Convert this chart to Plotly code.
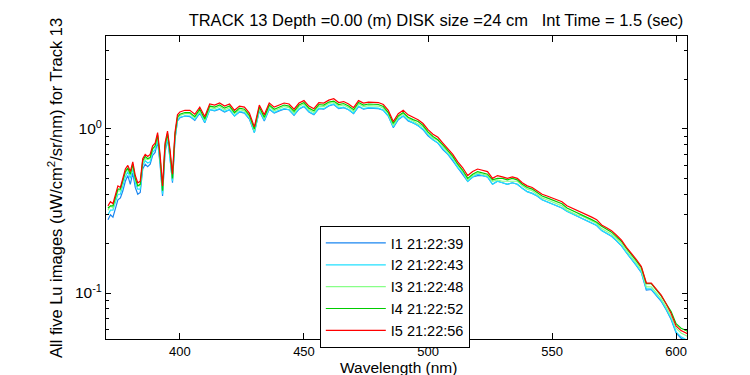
import plotly.graph_objects as go

# Wavelengths (nm): 1-nm steps to 400, then 2-nm steps
wavelength = list(range(371, 401)) + list(range(402, 607, 2))

lu_I5 = [0.34,0.36,0.35,0.40,0.45,0.44,0.50,0.57,0.60,0.55,0.63,0.52,0.47,0.48,0.66,0.70,0.68,0.70,0.79,0.82,0.95,0.70,0.45,0.82,0.97,0.75,0.53,0.95,1.22,1.27,
    1.30,1.30,1.23,1.36,1.19,1.42,1.40,1.44,1.38,1.42,
    1.30,1.38,1.36,1.25,1.03,1.40,1.22,1.44,1.36,1.40,
    1.44,1.42,1.32,1.44,1.49,1.38,1.33,1.45,1.44,1.50,
    1.53,1.45,1.47,1.42,1.35,1.49,1.44,1.46,1.45,1.45,
    1.41,1.30,1.11,1.24,1.30,1.22,1.18,1.14,1.08,0.99,
    0.93,0.89,0.82,0.76,0.70,0.63,0.58,0.52,0.55,0.57,
    0.56,0.55,0.50,0.52,0.51,0.50,0.51,0.50,0.47,0.45,
    0.44,0.42,0.40,0.39,0.38,0.37,0.36,0.34,0.33,0.32,
    0.31,0.30,0.29,0.28,0.26,0.25,0.24,0.225,0.21,0.19,
    0.175,0.16,0.145,0.115,0.115,0.105,0.097,0.086,0.075,0.063,
    0.059,0.057,0.055]

lu_I4 = [0.33,0.34,0.34,0.38,0.43,0.43,0.48,0.55,0.58,0.53,0.61,0.50,0.45,0.46,0.64,0.68,0.66,0.67,0.76,0.79,0.92,0.67,0.42,0.79,0.94,0.72,0.50,0.92,1.18,1.23,
    1.26,1.26,1.19,1.32,1.15,1.38,1.36,1.40,1.34,1.38,
    1.26,1.34,1.32,1.21,1.00,1.36,1.18,1.40,1.32,1.36,
    1.40,1.38,1.28,1.40,1.45,1.34,1.29,1.41,1.40,1.46,
    1.48,1.41,1.43,1.38,1.31,1.45,1.40,1.42,1.41,1.41,
    1.37,1.26,1.08,1.20,1.26,1.18,1.14,1.11,1.05,0.96,
    0.90,0.86,0.80,0.74,0.68,0.61,0.56,0.50,0.53,0.55,
    0.54,0.53,0.49,0.50,0.50,0.49,0.50,0.49,0.46,0.44,
    0.43,0.41,0.39,0.38,0.37,0.36,0.35,0.33,0.32,0.31,
    0.30,0.29,0.28,0.27,0.255,0.245,0.235,0.22,0.206,0.187,
    0.172,0.157,0.143,0.114,0.114,0.104,0.096,0.086,0.077,0.065,
    0.061,0.059,0.057]

lu_I3 = [0.32,0.34,0.33,0.38,0.42,0.42,0.47,0.54,0.57,0.52,0.60,0.49,0.45,0.45,0.62,0.66,0.65,0.66,0.75,0.78,0.90,0.66,0.42,0.77,0.92,0.71,0.50,0.90,1.16,1.21,
    1.24,1.24,1.17,1.29,1.13,1.35,1.33,1.37,1.31,1.35,
    1.24,1.31,1.29,1.19,0.98,1.33,1.16,1.37,1.29,1.33,
    1.37,1.35,1.25,1.37,1.42,1.31,1.26,1.38,1.37,1.43,
    1.45,1.38,1.40,1.35,1.28,1.42,1.37,1.39,1.38,1.38,
    1.34,1.24,1.05,1.18,1.24,1.16,1.12,1.08,1.03,0.94,
    0.88,0.85,0.78,0.72,0.67,0.60,0.55,0.49,0.52,0.54,
    0.53,0.52,0.48,0.49,0.48,0.48,0.48,0.48,0.45,0.43,
    0.42,0.40,0.38,0.37,0.36,0.35,0.34,0.32,0.31,0.30,
    0.295,0.285,0.275,0.265,0.247,0.238,0.228,0.214,0.20,0.181,
    0.167,0.152,0.138,0.109,0.109,0.100,0.092,0.082,0.072,0.061,
    0.057,0.055,0.053]

lu_I2 = [0.30,0.32,0.32,0.36,0.40,0.40,0.45,0.51,0.55,0.50,0.57,0.47,0.43,0.43,0.60,0.64,0.62,0.63,0.72,0.75,0.87,0.63,0.40,0.74,0.89,0.68,0.48,0.87,1.13,1.18,
    1.20,1.20,1.14,1.26,1.10,1.31,1.30,1.33,1.28,1.31,
    1.20,1.28,1.26,1.16,0.95,1.30,1.13,1.33,1.26,1.30,
    1.33,1.31,1.22,1.33,1.38,1.28,1.23,1.34,1.33,1.39,
    1.42,1.34,1.36,1.31,1.25,1.38,1.33,1.35,1.34,1.34,
    1.30,1.20,1.03,1.15,1.20,1.13,1.09,1.05,1.00,0.92,
    0.86,0.82,0.76,0.70,0.65,0.58,0.54,0.48,0.51,0.53,
    0.52,0.51,0.46,0.48,0.47,0.46,0.47,0.46,0.435,0.415,
    0.405,0.39,0.37,0.36,0.35,0.34,0.33,0.315,0.305,0.295,
    0.285,0.277,0.268,0.258,0.24,0.231,0.222,0.208,0.194,0.176,
    0.162,0.148,0.134,0.106,0.106,0.097,0.090,0.080,0.070,0.058,
    0.054,0.052,0.050]

lu_I1 = [0.28,0.30,0.29,0.33,0.37,0.38,0.42,0.48,0.52,0.46,0.54,0.44,0.40,0.41,0.57,0.61,0.59,0.61,0.69,0.72,0.84,0.61,0.39,0.72,0.87,0.67,0.47,0.86,1.12,1.17,
    1.20,1.19,1.13,1.25,1.09,1.31,1.29,1.32,1.27,1.31,
    1.20,1.27,1.25,1.15,0.95,1.29,1.12,1.32,1.25,1.29,
    1.32,1.31,1.21,1.32,1.37,1.27,1.22,1.33,1.32,1.38,
    1.41,1.33,1.35,1.31,1.24,1.37,1.32,1.34,1.33,1.33,
    1.30,1.20,1.02,1.14,1.20,1.12,1.09,1.05,0.99,0.91,
    0.86,0.82,0.75,0.70,0.64,0.58,0.53,0.48,0.51,0.52,
    0.52,0.51,0.46,0.48,0.47,0.46,0.47,0.46,0.435,0.415,
    0.405,0.39,0.37,0.36,0.35,0.34,0.33,0.315,0.305,0.295,
    0.285,0.277,0.268,0.258,0.24,0.231,0.222,0.208,0.194,0.176,
    0.162,0.147,0.133,0.104,0.105,0.096,0.089,0.079,0.069,0.057,
    0.053,0.051,0.049]

series_names = ["I1 21:22:39", "I2 21:22:43", "I3 21:22:48", "I4 21:22:52", "I5 21:22:56"]
series_values = [lu_I1, lu_I2, lu_I3, lu_I4, lu_I5]
series_colors = ["#1a86f0", "#22e0ff", "#88ff88", "#00cc00", "#ff0000"]

x_ticks = [400, 450, 500, 550, 600]
y_ticks = [0.1, 1]
y_ticktext = ["10<sup>-1</sup>", "10<sup>0</sup>"]
y_minor = [0.06, 0.07, 0.08, 0.09, 0.2, 0.3, 0.4, 0.5, 0.6, 0.7, 0.8, 0.9, 2, 3]

FONT = "Arial, Liberation Sans, sans-serif"

fig = go.Figure()
for name, vals, col in zip(series_names, series_values, series_colors):
    fig.add_trace(go.Scatter(x=wavelength, y=vals, mode="lines", name=name,
                             line=dict(color=col, width=1.2)))

fig.update_layout(
    width=750, height=375,
    margin=dict(l=98, r=71, t=28, b=44),
    paper_bgcolor="white", plot_bgcolor="white",
    font=dict(family=FONT, size=14, color="black"),
    showlegend=True,
    legend=dict(x=0.368, y=(331-218)/303, xanchor="left", yanchor="top",
                bordercolor="black", borderwidth=1, bgcolor="white",
                font=dict(size=14.5), tracegroupgap=0, itemwidth=60),
    title=dict(text="TRACK 13 Depth =0.00 (m) DISK size =24 cm\u00a0\u00a0\u00a0Int Time = 1.5 (sec)",
               x=428/750, xanchor="center", y=1-12/375, yanchor="middle",
               font=dict(size=16.5, family=FONT)),
)
fig.update_xaxes(range=[370.2, 604.4], tickvals=x_ticks, ticks="inside", ticklen=6,
                 tickcolor="black", showline=True, linecolor="black", linewidth=1,
                 mirror="ticks", showgrid=False, zeroline=False,
                 tickfont=dict(size=13))
fig.update_yaxes(type="log", range=[-1.2805, 0.567], tickvals=y_ticks, ticktext=y_ticktext,
                 ticks="inside", ticklen=5, tickcolor="black", showline=True,
                 linecolor="black", linewidth=1, mirror="ticks", showgrid=False,
                 zeroline=False, tickfont=dict(size=15.5),
                 minor=dict(tickvals=y_minor, ticks="inside", ticklen=3,
                            tickcolor="black", showgrid=False))

fig.add_annotation(text="Wavelength (nm)", xref="paper", yref="paper",
                   x=(390-98)/581, y=-(359-331)/303, xanchor="center", yanchor="middle",
                   showarrow=False, font=dict(size=15.5))
fig.add_annotation(text="All five Lu images (uW/cm<sup>2</sup>/sr/nm) for Track 13",
                   xref="paper", yref="paper", textangle=-90,
                   x=-(98-47)/581, y=(331-180)/303, xanchor="center", yanchor="middle",
                   showarrow=False, font=dict(size=16.5))

fig.write_html("out.html")
